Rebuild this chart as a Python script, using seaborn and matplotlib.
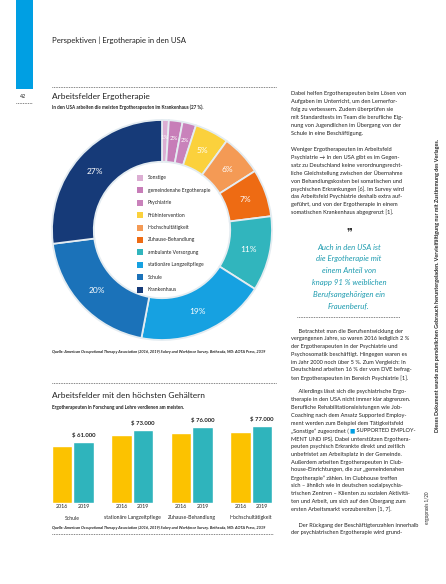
import numpy as np
import matplotlib.pyplot as plt
import matplotlib.transforms as mtransforms
from matplotlib.lines import Line2D
from matplotlib.patches import Rectangle
import seaborn as sns
import pandas as pd

W, H = 446, 584

# donut: Arbeitsfelder Ergotherapie (clockwise from top)
fields = ["Sonstige", "gemeindenahe Ergotherapie", "Psychiatrie", "Frühintervention",
          "Hochschultätigkeit", "Zuhause-Behandlung", "ambulante Versorgung",
          "stationäre Langzeitpflege", "Schule", "Krankenhaus"]
shares = [1, 2, 2, 5, 6, 7, 11, 19, 20, 27]
field_colors = ["#dcaed3", "#c77db8", "#c982bb", "#fbd13c", "#f49a55", "#ee6b13",
                "#31b5bd", "#16a1e1", "#1b72b9", "#163a78"]

# bars: Arbeitsfelder mit den höchsten Gehältern
salary_fields = ["Schule", "stationäre Langzeitpflege", "Zuhause-Behandlung", "Hochschultätigkeit"]
years = ["2016", "2019"]
salary_2016 = [57000, 68000, 70000, 71000]
salary_2019 = [61000, 73000, 76000, 77000]
year_colors = ["#fcc200", "#2fb4bc"]

source = ("Quelle: American Occupational Therapy Association (2016, 2019) Salary and Workforce "
          "Survey. Bethesda, MD: AOTA Press, 2019")

col1 = ["Dabei helfen Ergotherapeuten beim Lösen von",
        "Aufgaben im Unterricht, um den Lernerfor-",
        "folg zu verbessern. Zudem überprüfen sie",
        "mit Standardtests im Team die berufliche Eig-",
        "nung von Jugendlichen im Übergang von der",
        "Schule in eine Beschäftigung."]
col2 = ["Weniger Ergotherapeuten im Arbeitsfeld",
        "Psychiatrie → In den USA gibt es im Gegen-",
        "satz zu Deutschland keine verordnungsrecht-",
        "liche Gleichstellung zwischen der Übernahme",
        "von Behandlungskosten bei somatischen und",
        "psychischen Erkrankungen [6]. Im Survey wird",
        "das Arbeitsfeld Psychiatrie deshalb extra auf-",
        "geführt, und von der Ergotherapie in einem",
        "somatischen Krankenhaus abgegrenzt [1]."]
quote = ["Auch in den USA ist", "die Ergotherapie mit", "einem Anteil von",
         "knapp 91 % weiblichen", "Berufsangehörigen ein", "Frauenberuf."]
col3 = ["     Betrachtet man die Berufsentwicklung der",
        "vergangenen Jahre, so waren 2016 lediglich 2 %",
        "der Ergotherapeuten in der Psychiatrie und",
        "Psychosomatik beschäftigt. Hingegen waren es",
        "im Jahr 2000 noch über 5 %. Zum Vergleich: In",
        "Deutschland arbeiten 16 % der vom DVE befrag-",
        "ten Ergotherapeuten im Bereich Psychiatrie [1]."]
col4a = ["     Allerdings lässt sich die psychiatrische Ergo-",
         "therapie in den USA nicht immer klar abgrenzen.",
         "Berufliche Rehabilitationsleistungen wie Job-",
         "Coaching nach dem Ansatz Supported Employ-",
         "ment werden zum Beispiel dem Tätigkeitsfeld"]
col4_icon = ("„Sonstige“ zugeordnet (", " SUPPORTED EMPLOY-")
col4b = ["MENT UND IPS). Dabei unterstützen Ergothera-",
         "peuten psychisch Erkrankte direkt und zeitlich",
         "unbefristet am Arbeitsplatz in der Gemeinde.",
         "Außerdem arbeiten Ergotherapeuten in Club-",
         "house-Einrichtungen, die zur „gemeindenahen",
         "Ergotherapie“ zählen. Im Clubhouse treffen",
         "sich – ähnlich wie in deutschen sozialpsychia-",
         "trischen Zentren – Klienten zu sozialen Aktivitä-",
         "ten und Arbeit, um sich auf den Übergang zum",
         "ersten Arbeitsmarkt vorzubereiten [1, 7]."]
col5 = ["     Der Rückgang der Beschäftigtenzahlen innerhalb",
        "der psychiatrischen Ergotherapie wird grund-"]

sns.set_style("white")
plt.rcParams['font.family'] = ['Lato', 'DejaVu Sans']
TXT = "#222222"

fig = plt.figure(figsize=(W / 100, H / 100), dpi=100)


def fx(x):
    return x / W


def fy(y):
    return 1 - y / H


def ftext(x, y, s, **kw):
    kw.setdefault("va", "center")
    kw.setdefault("color", TXT)
    return fig.text(fx(x), fy(y), s, **kw)


def dotted(x0, x1, y):
    fig.add_artist(Line2D([fx(x0), fx(x1)], [fy(y), fy(y)], color="#333333",
                          linestyle=(0, (0.8, 1.2)), linewidth=0.6))


# header
fig.add_artist(Rectangle((fx(16), fy(89)), fx(17), 89 / H, color="#009fe3", lw=0))
ftext(52, 40, "Perspektiven | Ergotherapie in den USA", fontsize=5.6)
ftext(20, 97, "42", fontsize=3.8)
dotted(16, 32, 103)

# donut section
dotted(52, 276, 87)
ftext(52, 97, "Arbeitsfelder Ergotherapie", fontsize=6.0)
ftext(52, 107, "In den USA arbeiten die meisten Ergotherapeuten im Krankenhaus (27 %).",
      fontsize=3.3, fontweight="bold")

R = 110
cx, cy = 162, 230
ax_pie = fig.add_axes([fx(cx - R), fy(cy + R), 2 * R / W, 2 * R / H])
wedges, _ = ax_pie.pie(shares, colors=field_colors, startangle=90, counterclock=False,
                       wedgeprops=dict(width=0.38, edgecolor="#e4ecf1", linewidth=1.3))
ax_pie.set_xlim(-1, 1)
ax_pie.set_ylim(-1, 1)
ax_pie.set_aspect("equal")
ax_pie.axis("off")
for w, s in zip(wedges, shares):
    ang = np.deg2rad((w.theta1 + w.theta2) / 2)
    small = s < 3
    r = 0.84 if small else 0.81
    ax_pie.text(r * np.cos(ang), r * np.sin(ang), f"{s}%", color="white",
                fontsize=4.3 if small else 6, ha="center", va="center")

# legend inside the ring
for i, (name, c) in enumerate(zip(fields, field_colors)):
    yy = 178 + i * 12.4
    fig.add_artist(Rectangle((fx(137), fy(yy + 3)), 6 / W, 6 / H, color=c, lw=0))
    ftext(148, yy, name, fontsize=3.6)

ftext(52, 352, source, fontsize=2.75, fontweight="bold", style="italic")

# bar section
dotted(52, 276, 383)
ftext(52, 396, "Arbeitsfelder mit den höchsten Gehältern", fontsize=6.0)
ftext(52, 407, "Ergotherapeuten in Forschung und Lehre verdienen am meisten.",
      fontsize=3.3, fontweight="bold")

df = pd.DataFrame({
    "Arbeitsfeld": salary_fields * 2,
    "Jahr": [years[0]] * len(salary_fields) + [years[1]] * len(salary_fields),
    "Gehalt": salary_2016 + salary_2019,
})
ax_bar = fig.add_axes([fx(43), fy(503), 238 / W, 100 / H])
sns.barplot(data=df, x="Arbeitsfeld", y="Gehalt", hue="Jahr", palette=year_colors,
            width=0.72, saturation=1, ax=ax_bar, legend=False, gap=0.03)
ax_bar.set_ylim(0, 100000)
ax_bar.set_xlim(-0.5, 3.5)
sns.despine(ax=ax_bar, left=True, bottom=True)
ax_bar.set_yticks([])
ax_bar.set_xlabel("")
ax_bar.set_ylabel("")
ax_bar.tick_params(axis="x", length=0, pad=9.0, labelsize=3.7, labelcolor=TXT)
ax_bar.bar_label(ax_bar.containers[1],
                 labels=[f"$ {v:,}".replace(",", ".") for v in salary_2019],
                 padding=3, fontsize=4.3, fontweight="bold", color=TXT)
trans = mtransforms.blended_transform_factory(ax_bar.transData, ax_bar.transAxes)
for cont, yr in zip(ax_bar.containers, years):
    for bar in cont:
        ax_bar.text(bar.get_x() + bar.get_width() / 2, -0.01, yr, transform=trans,
                    ha="center", va="top", fontsize=3.9, color=TXT)

ftext(52, 528, source, fontsize=2.75, fontweight="bold", style="italic")
dotted(52, 273, 534)

# right text column
BODY = 4.1
for i, line in enumerate(col1):
    ftext(291, 94 + i * 7.8, line, fontsize=BODY)
for i, line in enumerate(col2):
    ftext(291, 150 + i * 7.8, line, fontsize=BODY)
ftext(349, 232, "❞", fontsize=8, ha="center", family="DejaVu Sans", color="#333333")
for i, line in enumerate(quote):
    ftext(349, 247 + i * 11.8, line, fontsize=5.6, ha="center", style="italic", color="#1f9cb0")
dotted(297, 400, 317)
for i, line in enumerate(col3):
    ftext(291, 331 + i * 7.8, line, fontsize=BODY)

y4 = 392
for i, line in enumerate(col4a):
    ftext(291, y4 + i * 7.8, line, fontsize=BODY)
yi = y4 + len(col4a) * 7.8
t1 = ftext(291, yi, col4_icon[0], fontsize=BODY)
t2 = plt.annotate("■", xy=(1, 0.5), xycoords=t1, xytext=(0.5, 0), textcoords="offset points",
                  va="center", ha="left", fontsize=BODY, color="#009fe3", family="DejaVu Sans",
                  annotation_clip=False)
t3 = plt.annotate(col4_icon[1], xy=(1, 0.5), xycoords=t2, va="center", ha="left",
                  fontsize=BODY, color=TXT, annotation_clip=False)
for i, line in enumerate(col4b):
    ftext(291, yi + (i + 1) * 7.8, line, fontsize=BODY)
for i, line in enumerate(col5):
    ftext(291, 525 + i * 7.8, line, fontsize=BODY)

fig.text(fx(437), fy(285), "Dieses Dokument wurde zum persönlichen Gebrauch heruntergeladen. "
         "Vervielfältigung nur mit Zustimmung des Verlages.", rotation=90,
         ha="center", va="center", fontsize=3.9, fontweight="bold", color=TXT)
fig.text(fx(427), fy(508), "ergopraxis 1/20", rotation=90, ha="center", va="center",
         fontsize=3.3, color=TXT)

fig.savefig("out.png", dpi=100)
